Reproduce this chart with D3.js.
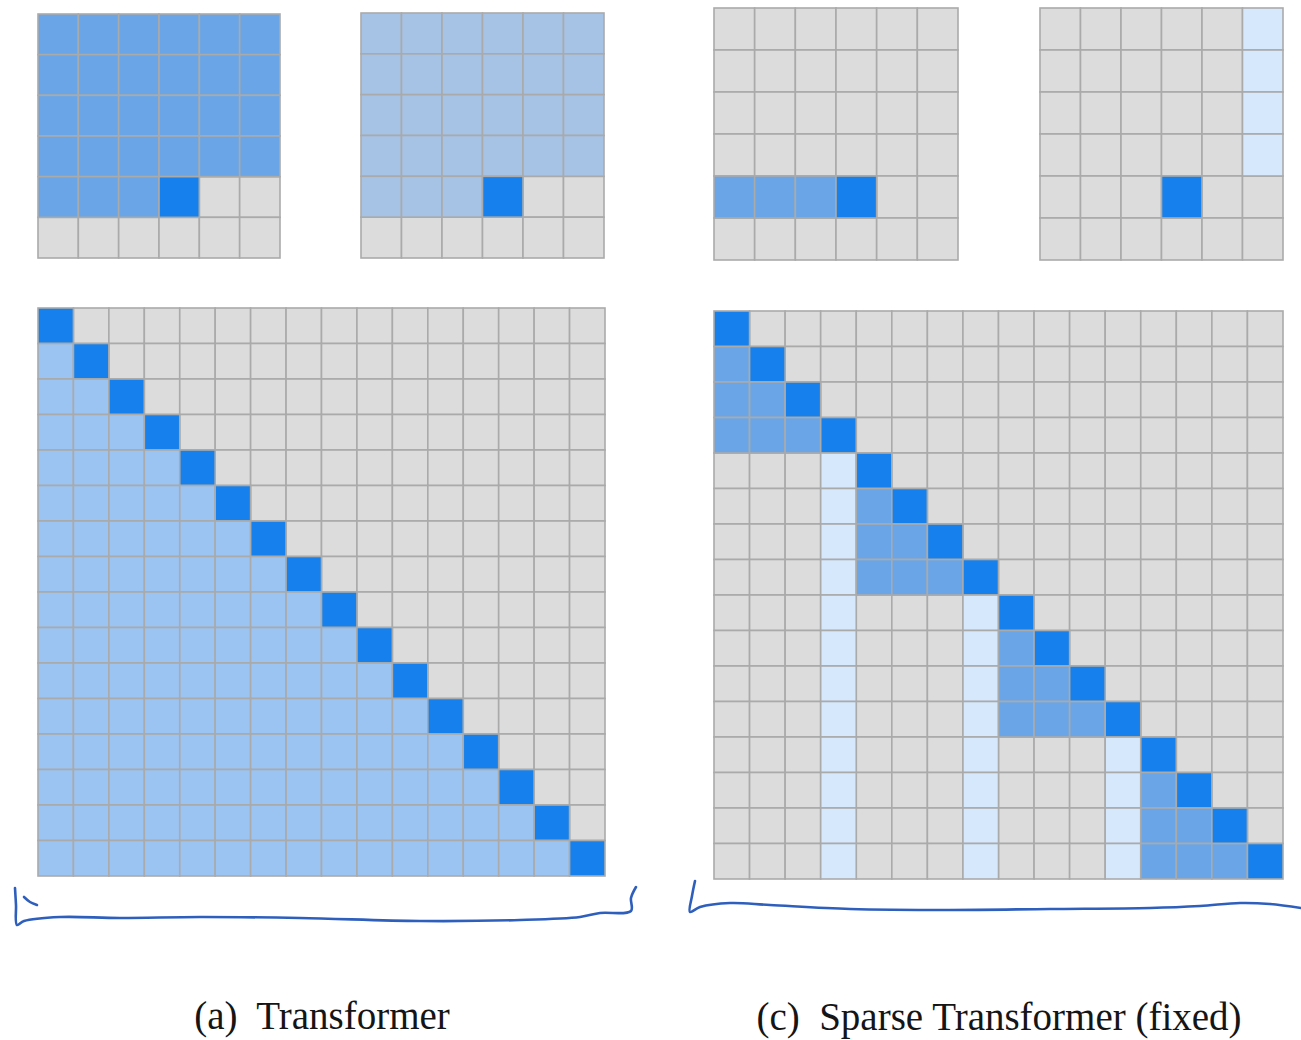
<!DOCTYPE html>
<meta charset="utf-8">
<style>
	body {
		margin: 0;
		background: #fff;
	}
	.cell {
		stroke: #aaaaaa;
		stroke-width: 1.6;
	}
	.brace {
		fill: none;
		stroke: #2f5fbd;
		stroke-width: 2.6;
		stroke-linecap: round;
		stroke-linejoin: round;
	}
	.caption {
		font-family: "Liberation Serif", "DejaVu Serif", serif;
		font-size: 39px;
		fill: #151515;
		white-space: pre;
	}
</style>
<script src="https://d3js.org/d3.v7.min.js"></script>
<svg width="1301" height="1040"></svg>
<script>
	// cell codes: 0 not attended, 1 attended, 2 query, 3 summary column, 4 attended (full), 5 attended (faint)
	var topA = ["111111", "111111", "111111", "111111", "111200", "000000"];
	var topB = ["555555", "555555", "555555", "555555", "555200", "000000"];
	var topC = ["000000", "000000", "000000", "000000", "111200", "000000"];
	var topD = ["000003", "000003", "000003", "000003", "000200", "000000"];

	var bigA = [
		"2000000000000000",
		"4200000000000000",
		"4420000000000000",
		"4442000000000000",
		"4444200000000000",
		"4444420000000000",
		"4444442000000000",
		"4444444200000000",
		"4444444420000000",
		"4444444442000000",
		"4444444444200000",
		"4444444444420000",
		"4444444444442000",
		"4444444444444200",
		"4444444444444420",
		"4444444444444442"
	];

	var bigC = [
		"2000000000000000",
		"1200000000000000",
		"1120000000000000",
		"1112000000000000",
		"0003200000000000",
		"0003120000000000",
		"0003112000000000",
		"0003111200000000",
		"0003000320000000",
		"0003000312000000",
		"0003000311200000",
		"0003000311120000",
		"0003000300032000",
		"0003000300031200",
		"0003000300031120",
		"0003000300031112"
	];

	var captions = ["(a)  Transformer", "(c)  Sparse Transformer (fixed)"];

	var colors = {
		"0": "#dcdcdc",
		"1": "#6aa6e7",
		"2": "#1681ec",
		"3": "#d6e8fc",
		"4": "#9cc4f2",
		"5": "#a6c3e5"
	};

	var svg = d3.select("svg");

	var panels = [
		{grid: topA, x: 38, y: 14, w: 242, h: 244},
		{grid: topB, x: 361, y: 13, w: 243, h: 245},
		{grid: topC, x: 714, y: 8, w: 244, h: 252},
		{grid: topD, x: 1040, y: 8, w: 243, h: 252},
		{grid: bigA, x: 38, y: 308, w: 567, h: 568},
		{grid: bigC, x: 714, y: 311, w: 569, h: 568}
	];

	panels.forEach(function(p) {
		var n = p.grid.length;
		var x = d3.scaleBand().domain(d3.range(n)).range([0, p.w]);
		var y = d3.scaleBand().domain(d3.range(n)).range([0, p.h]);

		var cells = [];
		p.grid.forEach(function(row, r) {
			row.split("").forEach(function(c, k) {
				cells.push({r: r, c: k, v: c});
			});
		});

		var g = svg.append("g")
			.attr("transform", "translate(" + p.x + "," + p.y + ")");

		// grey first so blue cells sit on top of the grid lines
		cells.sort(function(a, b) { return (a.v === "0") === (b.v === "0") ? 0 : (a.v === "0" ? -1 : 1); });

		g.selectAll("rect")
			.data(cells)
			.enter().append("rect")
				.attr("class", "cell")
				.attr("x", function(d) { return x(d.c); })
				.attr("y", function(d) { return y(d.r); })
				.attr("width", x.bandwidth())
				.attr("height", y.bandwidth())
				.attr("fill", function(d) { return colors[d.v]; });
	});

	// hand drawn brackets under the big grids
	var line = d3.line().curve(d3.curveCatmullRom);

	var braces = [
		[[15, 888], [16, 905], [17, 925], [24, 921], [60, 917], [120, 918], [200, 917], [300, 918], [420, 921], [520, 920], [580, 917], [600, 913], [631, 911], [631, 898], [636, 887]],
		[[24, 897], [30, 902], [37, 905]],
		[[695, 881], [692, 896], [690, 912], [700, 907], [730, 903], [770, 905], [850, 909], [950, 910], [1050, 909], [1150, 908], [1200, 906], [1240, 903], [1270, 904], [1301, 908]]
	];

	svg.selectAll(".brace")
		.data(braces)
		.enter().append("path")
			.attr("class", "brace")
			.attr("d", line);

	svg.selectAll(".caption")
		.data(captions)
		.enter().append("text")
			.attr("class", "caption")
			.attr("x", function(d, i) { return i === 0 ? 322 : 999; })
			.attr("y", function(d, i) { return i === 0 ? 1029 : 1030; })
			.attr("text-anchor", "middle")
			.text(function(d) { return d; });
</script>
